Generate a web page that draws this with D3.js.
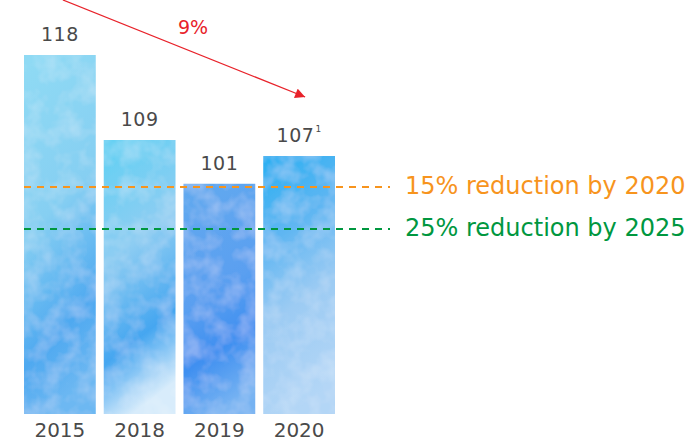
<!DOCTYPE html>
<html>
<head>
<meta charset="utf-8">
<script src="https://cdn.jsdelivr.net/npm/d3@7"></script>
<style>
  html, body { margin: 0; padding: 0; background: #fff; }
  svg { display: block; }
  text { font-family: "DejaVu Sans", "Noto Sans", sans-serif; }
</style>
</head>
<body>
<svg id="chart" width="693" height="443"></svg>
<script>
// ---- data ----
const years = ["2015", "2018", "2019", "2020"];
const values = [118, 109, 101, 107];
const valueLabels = ["118", "109", "101", "107"];
const footnotes = ["", "", "", "1"];
const targetLabels = ["15% reduction by 2020", "25% reduction by 2025"];
const targetValues = [100.3, 88.5];
const changeLabel = "9%";

// ---- layout ----
const W = 693, H = 443;
const svg = d3.select("#chart");
const baseY = 414;

const x = d3.scaleBand().domain(years).range([24, 335]).paddingInner(0.1).paddingOuter(0);
// illustrative (non-proportional) value axis of the original graphic
const y = d3.scaleLinear()
  .domain([88.5, 100.3, 107, 109, 118])
  .range([229, 187, 156, 140, 55]);

const defs = svg.append("defs");
const grads = [
  [["0%", "#8fdaf4"], ["45%", "#86cff2"], ["80%", "#4fa9f0"], ["100%", "#6db8f2"]],
  [["0%", "#63d0f3"], ["40%", "#8ecdf2"], ["75%", "#45a6f0"], ["100%", "#d8ecfb"]],
  [["0%", "#62a9ef"], ["50%", "#5a9ff0"], ["75%", "#3f8ff0"], ["100%", "#75b2f2"]],
  [["0%", "#2fb0f2"], ["30%", "#5fb6f2"], ["60%", "#9ccbf3"], ["100%", "#b3d6f6"]]
];
grads.forEach((stops, i) => {
  const g = defs.append("linearGradient").attr("id", "g" + i)
    .attr("x1", "0.2").attr("y1", "0").attr("x2", "0.4").attr("y2", "1");
  stops.forEach(s => g.append("stop").attr("offset", s[0]).attr("stop-color", s[1]));
});
// subtle watercolor-ish texture
const f = defs.append("filter").attr("id", "wc").attr("x", 0).attr("y", 0).attr("width", 1).attr("height", 1);
f.append("feTurbulence").attr("type", "fractalNoise").attr("baseFrequency", "0.05").attr("numOctaves", 3).attr("seed", 7).attr("result", "n");
f.append("feColorMatrix").attr("in", "n").attr("type", "matrix")
  .attr("values", "0 0 0 0 1  0 0 0 0 1  0 0 0 0 1  0 0 0 0.4 -0.15").attr("result", "w");
f.append("feComposite").attr("in", "w").attr("in2", "SourceGraphic").attr("operator", "in").attr("result", "wm");
f.append("feMerge").selectAll("feMergeNode").data(["SourceGraphic", "wm"]).enter()
  .append("feMergeNode").attr("in", d => d);

// bars
svg.append("g").selectAll("rect").data(years).enter().append("rect")
  .attr("x", d => x(d))
  .attr("y", (d, i) => y(values[i]))
  .attr("width", x.bandwidth())
  .attr("height", (d, i) => baseY - y(values[i]))
  .attr("fill", (d, i) => `url(#g${i})`)
  .attr("filter", "url(#wc)");

// value labels
const vl = svg.append("g").selectAll("text").data(years).enter().append("text")
  .attr("x", d => x(d) + x.bandwidth() / 2)
  .attr("y", (d, i) => y(values[i]) - 14)
  .attr("text-anchor", "middle")
  .attr("font-size", 19)
  .attr("letter-spacing", 0.5)
  .attr("fill", "#4a4a4a");
vl.append("tspan").text((d, i) => valueLabels[i]);
vl.append("tspan").attr("font-size", 9).attr("dy", -10).attr("dx", 1).text((d, i) => footnotes[i]);

// year labels
svg.append("g").selectAll("text").data(years).enter().append("text")
  .attr("x", d => x(d) + x.bandwidth() / 2)
  .attr("y", 437)
  .attr("text-anchor", "middle")
  .attr("font-size", 20)
  .attr("fill", "#4a4a4a")
  .text(d => d);

// target lines
const tColors = ["#f7941d", "#00973f"];
targetValues.forEach((v, i) => {
  svg.append("line")
    .attr("x1", x(years[0])).attr("x2", 390)
    .attr("y1", y(v)).attr("y2", y(v))
    .attr("stroke", tColors[i]).attr("stroke-width", 2.2)
    .attr("stroke-dasharray", "7,6");
  svg.append("text")
    .attr("x", 405).attr("y", y(v) + 7)
    .attr("font-size", 24)
    .attr("fill", tColors[i])
    .text(targetLabels[i]);
});

// change arrow
defs.append("marker").attr("id", "arr").attr("viewBox", "0 0 10 10")
  .attr("refX", 10).attr("refY", 5).attr("markerWidth", 12).attr("markerHeight", 10)
  .attr("markerUnits", "userSpaceOnUse").attr("orient", "auto")
  .append("path").attr("d", "M0,0 L10,5 L0,10 z").attr("fill", "#e8222a");
svg.append("line")
  .attr("x1", x(years[0]) + x.bandwidth() / 2 + 3).attr("y1", 0)
  .attr("x2", x(years[3]) + x.bandwidth() / 2 + 6).attr("y2", 97)
  .attr("stroke", "#e8222a").attr("stroke-width", 1.3)
  .attr("marker-end", "url(#arr)");
svg.append("text")
  .attr("x", 193).attr("y", 34)
  .attr("text-anchor", "middle")
  .attr("font-size", 19)
  .attr("fill", "#e8222a")
  .text(changeLabel);
</script>
</body>
</html>
